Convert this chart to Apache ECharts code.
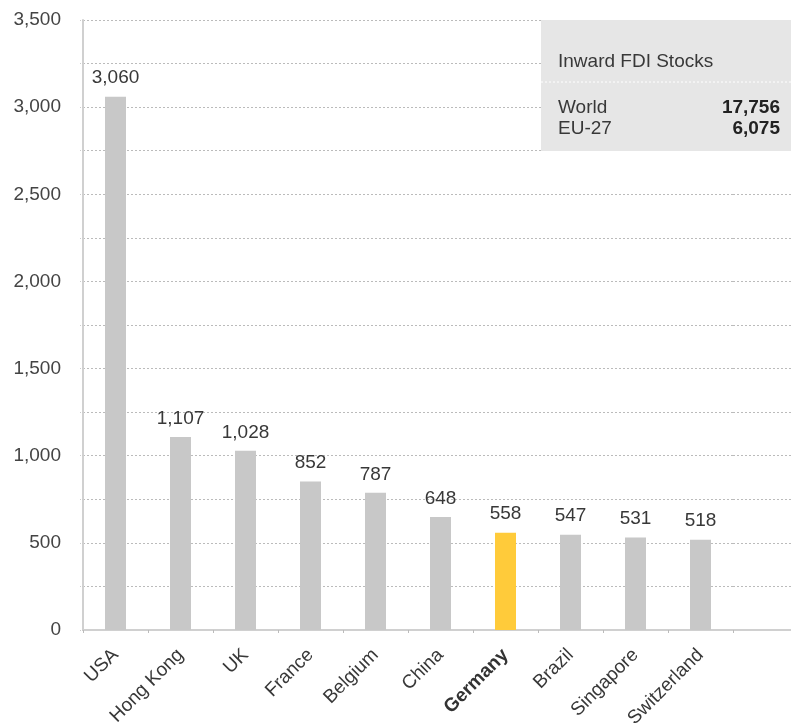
<!DOCTYPE html>
<html><head><meta charset="utf-8">
<script src="https://cdn.jsdelivr.net/npm/echarts@6/dist/echarts.min.js"></script>
<style>html,body{margin:0;padding:0;background:#fff}#c{width:791px;height:727px}</style>
</head><body><div id="c"></div><script>
const categories = ['USA','Hong Kong','UK','France','Belgium','China','Germany','Brazil','Singapore','Switzerland'];
const values = [3060,1107,1028,852,787,648,558,547,531,518];
const highlight = 'Germany';
const yMin = 0, yMax = 3500, yStep = 250, yLabelStep = 500;
const boxTitle = 'Inward FDI Stocks';
const boxLabels = ['World','EU-27'];
const boxValues = ['17,756','6,075'];

const FONT = '"Liberation Sans", Arial, sans-serif';
const FS = 19;
const fmt = v => Number(v).toLocaleString('en-US');
const chart = echarts.init(document.getElementById('c'), null, {renderer:'canvas'});
const gridTop = 20, gridBottom = 97;
chart.setOption({
  animation:false,
  backgroundColor:'#fff',
  textStyle:{fontFamily:FONT},
  grid:[
    {left:83, right:58, top:gridTop, bottom:gridBottom, containLabel:false, outerBoundsMode:'none'},
    {left:733, right:0, top:gridTop, bottom:gridBottom, containLabel:false, outerBoundsMode:'none'}
  ],
  xAxis:[
    {type:'category', gridIndex:0, data:categories,
     axisLine:{lineStyle:{color:'#d0d0d0', width:2}},
     axisTick:{show:true, length:3, lineStyle:{color:'#bbb'}},
     axisLabel:{rotate:45, margin:22, fontSize:FS, color:'#383838', fontFamily:FONT, interval:0,
       formatter: v => v===highlight ? '{b|'+v+'}' : v,
       rich:{b:{fontWeight:'bold', fontSize:FS, color:'#333', fontFamily:FONT}}}},
    {type:'category', gridIndex:1, data:[''],
     axisLine:{lineStyle:{color:'#d0d0d0', width:2}},
     axisTick:{show:false}, axisLabel:{show:false}}
  ],
  yAxis:[
    {type:'value', gridIndex:0, min:yMin, max:yMax, interval:yStep,
     axisLine:{show:true, lineStyle:{color:'#d0d0d0', width:2}},
     axisTick:{show:true, length:4, lineStyle:{color:'#ccc', type:'dotted'}},
     axisLabel:{margin:22, fontSize:FS, color:'#444', fontFamily:FONT,
       formatter: v => v % yLabelStep === 0 ? fmt(v) : ''},
     splitLine:{show:true, lineStyle:{color:'#bbb', type:[2,2], width:1}}},
    {type:'value', gridIndex:1, min:yMin, max:yMax, interval:yStep,
     axisLine:{show:false}, axisTick:{show:false}, axisLabel:{show:false},
     splitLine:{show:true, lineStyle:{color:'#bbb', type:[2,2], width:1}}}
  ],
  series:[{
    type:'bar', xAxisIndex:0, yAxisIndex:0, barWidth:21,
    data: values.map((v,i)=>({value:v, itemStyle:{color: categories[i]===highlight ? '#ffcb3a' : '#c8c8c8'}})),
    label:{show:true, position:'top', distance:9, fontSize:FS, color:'#383838', fontFamily:FONT,
      formatter: p => fmt(p.value)}
  }],
  graphic:[
    {type:'rect', left:541, top:20, shape:{width:250, height:131}, style:{fill:'#e6e6e6'}, z:10},
    {type:'line', shape:{x1:541, y1:82, x2:791, y2:82}, style:{stroke:'#fff', lineWidth:1, lineDash:[2,2]}, z:11},
    {type:'text', left:558, top:52, style:{text:boxTitle, fontSize:FS, fill:'#383838', fontFamily:FONT}, z:11},
    {type:'text', left:558, top:98, style:{text:boxLabels[0], fontSize:FS, fill:'#383838', fontFamily:FONT}, z:11},
    {type:'text', left:558, top:119, style:{text:boxLabels[1], fontSize:FS, fill:'#383838', fontFamily:FONT}, z:11},
    {type:'text', right:11, top:98, style:{text:boxValues[0], fontSize:FS, fontWeight:'bold', fill:'#222', fontFamily:FONT, align:'right'}, z:11},
    {type:'text', right:11, top:119, style:{text:boxValues[1], fontSize:FS, fontWeight:'bold', fill:'#222', fontFamily:FONT, align:'right'}, z:11}
  ]
});
</script></body></html>
